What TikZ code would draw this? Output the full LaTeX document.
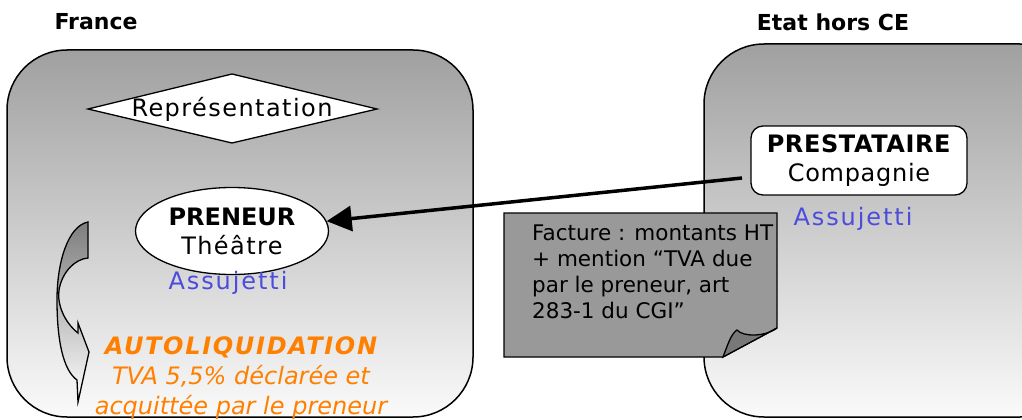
\documentclass[tikz,border=0pt]{standalone}
\usepackage{fontspec}
\setmainfont{DejaVu Sans}
\usepackage{tikz}
\usetikzlibrary{arrows.meta, shapes.geometric}
\definecolor{zonetop}{RGB}{160, 160, 160}
\definecolor{zonemid}{RGB}{205, 205, 205}
\definecolor{zonebot}{RGB}{250, 250, 250}
\definecolor{autoorange}{RGB}{255, 128, 0}
\definecolor{assublue}{RGB}{76, 76, 220}
\definecolor{notegray}{RGB}{153, 153, 153}
\definecolor{flapgray}{RGB}{120, 120, 120}
\definecolor{curlgray}{RGB}{125, 125, 125}

\begin{document}
\begin{tikzpicture}[x=1pt, y=-1pt, >={Triangle[length=25pt, width=25pt]},
  zone/.style={draw, line width=1.5pt, rounded corners=60pt, top color=zonetop, middle color=zonemid, bottom color=zonebot},
  title/.style={font=\bfseries\fontsize{22}{26}\selectfont},
  txt/.style={font=\fontsize{24}{29}\selectfont},
  assu/.style={txt, text=assublue}]
\useasboundingbox (0,0) rectangle (1022,420);

% Countries
\node[title] (fr) at (96,22) {France};
\node[title] (etat) at (833,22) {Etat hors CE};

% Zones
\path[zone] (7,50) rectangle (473,417);
\path[zone] (704,44) rectangle (1080,417);

% Representation
\draw[line width=1.3pt, fill=white] (88,109) -- (232,74) -- (377,109) -- (232,143) -- cycle;
\node[txt] (rep) at (232,109) {\addfontfeature{LetterSpace=6}Représentation};

% Preneur
\node[txt, draw, line width=1.3pt, fill=white, ellipse, minimum width=193pt, minimum height=87pt, inner sep=0pt, align=center] (pren) at (232,231) {\textbf{PRENEUR}\\\addfontfeature{LetterSpace=6}Théâtre};
\node[assu] (assu1) at (228,283) {\addfontfeature{LetterSpace=8}Assujetti};

% Prestataire
\node[txt, draw, line width=1.3pt, fill=white, rounded corners=12pt, minimum width=216pt, minimum height=69pt, inner sep=0pt, align=center] (prest) at (859,160.5) {\textbf{\addfontfeature{LetterSpace=2.5}PRESTATAIRE}\\\addfontfeature{LetterSpace=3}Compagnie};
\node[assu] (assu2) at (853,219) {\addfontfeature{LetterSpace=8}Assujetti};

% Invoice arrow
\coordinate (src) at (742,178);
\draw[->, line width=3.5pt] (src) -- (pren);

% Invoice note
\draw[line width=1.3pt, fill=notegray] (504,213) -- (777,213) -- (777,328) -- (723,357) -- (504,357) -- cycle;
\draw[line width=1.3pt, fill=flapgray] (723,357) .. controls (728,344) and (731,334) .. (737,330) .. controls (743,337) and (765,337) .. (777,328) -- cycle;
\node[anchor=north west, inner sep=0pt, align=left, font=\fontsize{21.5}{26}\selectfont] (fact) at (532,225) {Facture : montants HT\\+ mention “TVA due\\par le preneur, art\\283-1 du CGI”};

% Self-assessment curl
\draw[line width=1.3pt, top color=curlgray, middle color=curlgray!40, bottom color=white] (88,222) .. controls (68,226) and (57,262) .. (57,300) .. controls (57,340) and (63,370) .. (77,380) -- (78,402) -- (89,352) -- (78,323) -- (78,333) .. controls (64,322) and (57,304) .. (59,290) .. controls (62,272) and (75,259) .. (88,258) -- cycle;

% Autoliquidation
\node[anchor=north, inner sep=0pt, align=center, text=autoorange, font=\itshape\fontsize{24}{30}\selectfont] (auto) at (241,336.5) {\textbf{\addfontfeature{LetterSpace=7}AUTOLIQUIDATION}\\TVA 5,5\% déclarée et\\acquittée par le preneur};
\end{tikzpicture}
\end{document}
